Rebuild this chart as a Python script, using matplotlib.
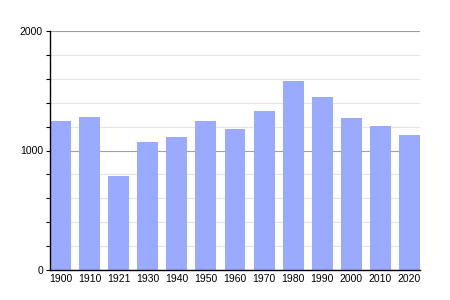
import numpy as np
import matplotlib
matplotlib.use('Agg')
import matplotlib.pyplot as plt
from matplotlib.ticker import MultipleLocator

years = ['1900', '1910', '1921', '1930', '1940', '1950', '1960',
         '1970', '1980', '1990', '2000', '2010', '2020']
population = [1247, 1280, 789, 1071, 1113, 1247, 1180,
              1331, 1582, 1448, 1272, 1205, 1130]

plt.rcParams['font.family'] = ['Liberation Sans', 'DejaVu Sans']

fig = plt.figure(figsize=(4.5, 3), dpi=100)
ax = fig.add_axes([50/450, 0.1, 370/450, 239/300])

w = 0.722
x = np.arange(len(years))
ax.bar(x, population, width=w, color='#99aaff', zorder=2)

ax.set_xlim(-w/2, len(years) - 1 + w/2)
ax.set_ylim(0, 2000)
ax.set_xticks(x)
ax.set_xticklabels(years)
ax.yaxis.set_major_locator(MultipleLocator(1000))
ax.yaxis.set_minor_locator(MultipleLocator(200))

ax.grid(axis='y', which='minor', color='#e4e4e4', lw=0.8, zorder=0)
ax.grid(axis='y', which='major', color='#a0a0a0', lw=0.8, zorder=1)

for s in ['top', 'right']:
    ax.spines[s].set_visible(False)
ax.spines['left'].set_linewidth(1.0)
ax.spines['bottom'].set_linewidth(1.0)

ax.tick_params(axis='x', length=0, labelsize=7.5, pad=3)
ax.tick_params(axis='y', which='both', length=3, width=0.8, labelsize=7.5, pad=2)

fig.savefig('out.png', dpi=100)
